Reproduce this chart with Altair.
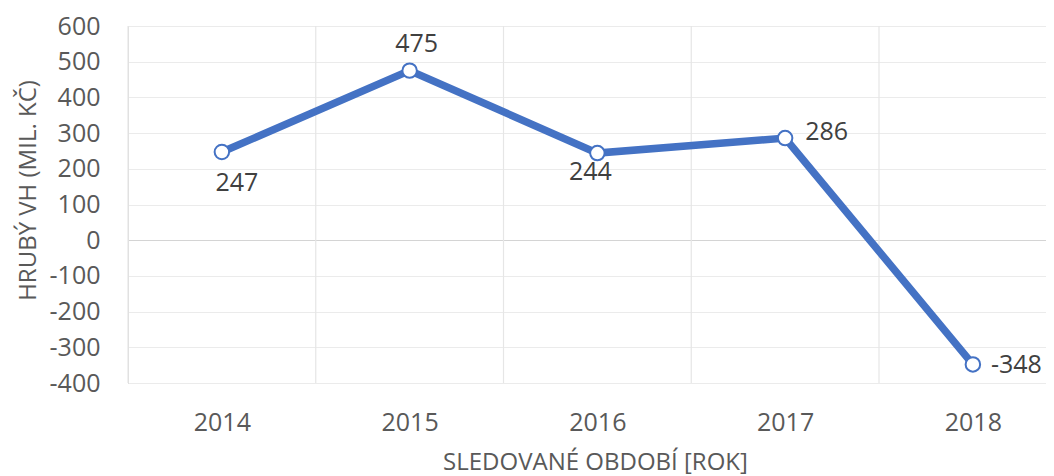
import altair as alt
import pandas as pd

# ---- data ----
years = [2014, 2015, 2016, 2017, 2018]
values = [247, 475, 244, 286, -348]
y_ticks = [-400, -300, -200, -100, 0, 100, 200, 300, 400, 500, 600]
x_title = "SLEDOVANÉ OBDOBÍ [ROK]"
y_title = "HRUBÝ VH (MIL. KČ)"

# label placement per year: (dx, dy, align)
label_place = {
    2014: (15, 31, "center"),
    2015: (7, -27, "center"),
    2016: (-7, 19, "center"),
    2017: (20, -6, "left"),
    2018: (18, 1, "left"),
}

df = pd.DataFrame({"year": years, "value": values,
                   "label": [str(v) for v in values]})
bounds = pd.DataFrame({"b": [y - 0.5 for y in years]})

W = 918
H = 357
band = 187.75
x_domain = [years[0] - 0.5, years[0] - 0.5 + W / band]

FONT = "Open Sans"
LINE_COLOR = "#4472C4"

x_scale = alt.Scale(domain=x_domain, nice=False, zero=False)
y_scale = alt.Scale(domain=[-400, 600], nice=False, zero=False)

x_axis = alt.Axis(
    values=years, format="d", grid=False, ticks=False, domain=False,
    labelFontSize=25, labelColor="#595959", labelPadding=27, labelFlush=False,
    labelOverlap=False, labelFont=FONT,
    title=x_title, titleFont=FONT, titleFontSize=24, titleFontWeight="normal",
    titleColor="#595959", titleX=467, titleY=79, titleBaseline="middle",
    titleAlign="center",
)
y_axis = alt.Axis(
    values=y_ticks, ticks=False, domain=True, domainColor="#d9d9d9",
    labelFontSize=25, labelColor="#595959", labelPadding=28, labelFlush=False,
    labelFont=FONT,
    labelExpr="datum.value < 0 ? '-' + toString(abs(datum.value)) : toString(datum.value)",
    gridColor={"condition": {"test": "datum.value === 0", "value": "#d4d4d4"}, "value": "#ebebeb"},
    gridWidth=1.2,
    title=y_title, titleFont=FONT, titleFontSize=24, titleFontWeight="normal",
    titleColor="#595959", titleX=-100, titleY=164, titleAngle=270,
    titleBaseline="middle", titleAlign="center",
)

X = alt.X("year:Q", scale=x_scale, axis=x_axis)
Y = alt.Y("value:Q", scale=y_scale, axis=y_axis)

rules = alt.Chart(bounds).mark_rule(color="#e6e6e6", strokeWidth=1.2).encode(
    x=alt.X("b:Q", scale=x_scale, axis=x_axis),
    y=alt.value(0),
    y2=alt.value(H),
)

base = alt.Chart(df).encode(x=X, y=Y)

line = base.mark_line(color=LINE_COLOR, strokeWidth=7.5)
points = base.mark_point(
    filled=True, fill="white", stroke=LINE_COLOR, strokeWidth=2, size=210, opacity=1
)

texts = []
for yr, (dx, dy, align) in label_place.items():
    t = base.transform_filter(alt.datum.year == yr).mark_text(
        dx=dx, dy=dy, align=align, baseline="middle",
        font=FONT, fontSize=25, color="#404040",
    ).encode(text="label:N")
    texts.append(t)

chart = alt.layer(rules, line, points, *texts).properties(
    width=W, height=H,
    autosize=alt.AutoSizeParams(type="none"),
    padding={"left": 120, "top": 18, "right": 0, "bottom": 96},
).configure_view(stroke=None).configure(font=FONT)

chart.save("out.html", embed_options={"renderer": "svg", "actions": False})
